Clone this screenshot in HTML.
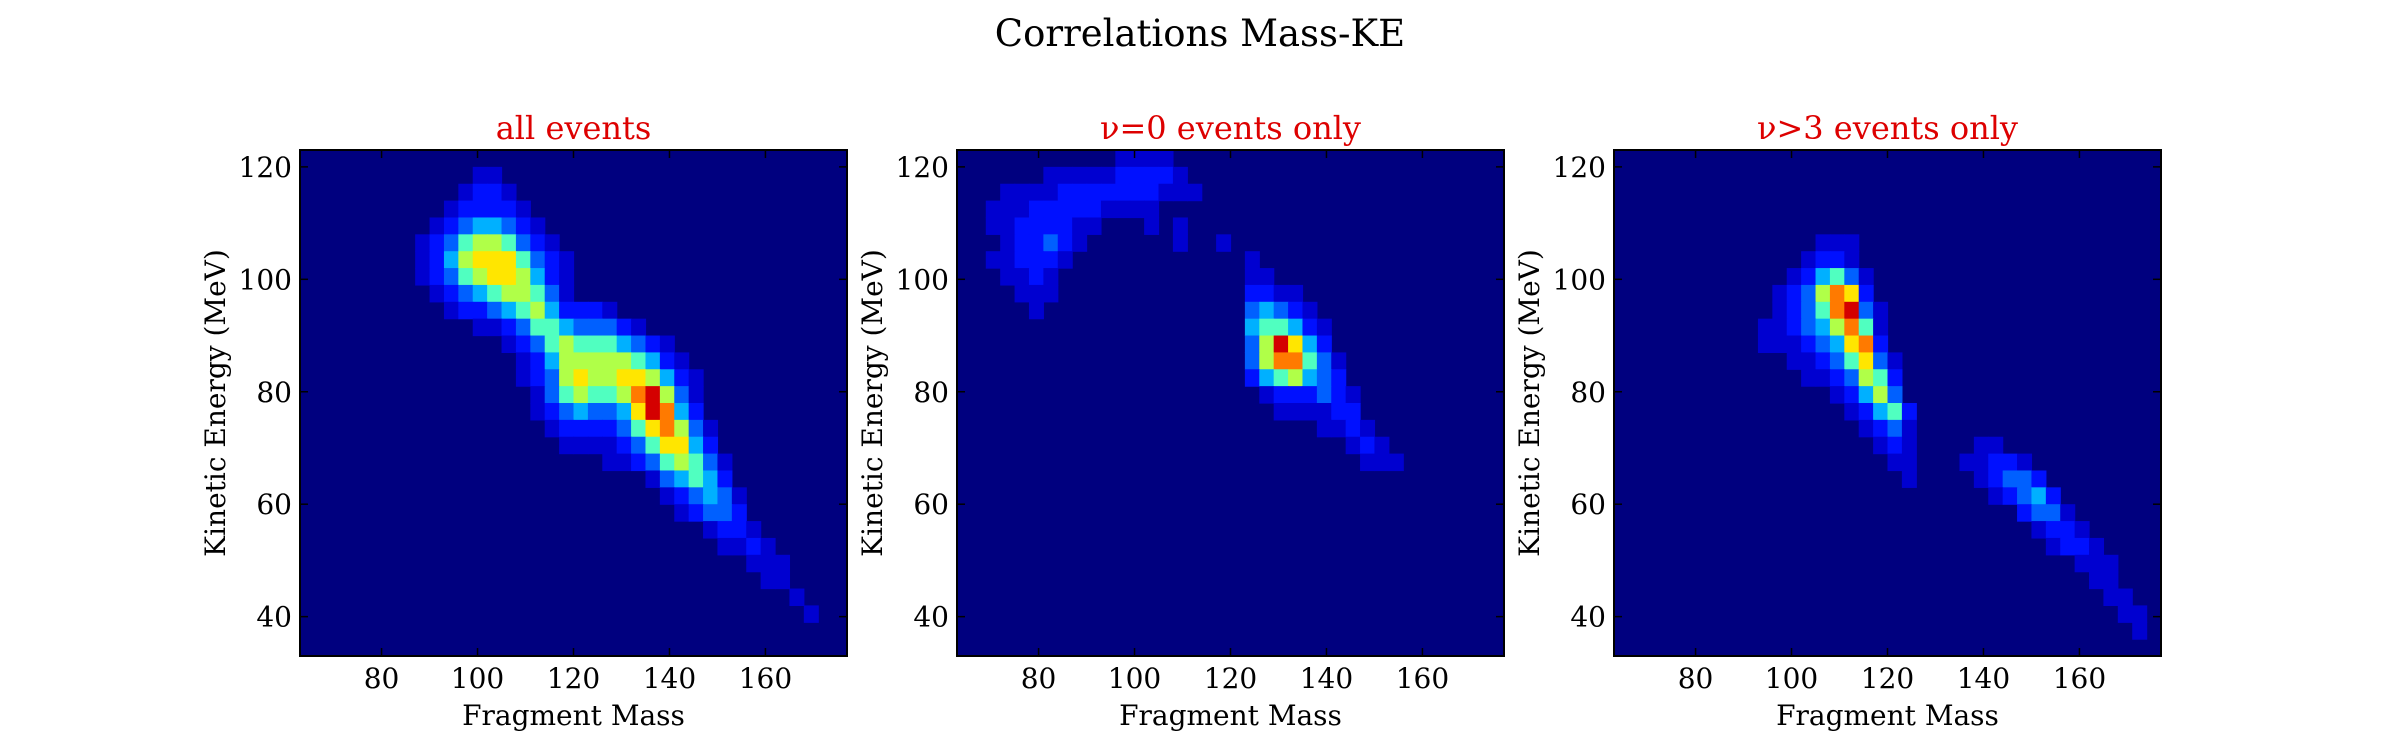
<!DOCTYPE html>
<html><head><meta charset="utf-8">
<style>
html,body{margin:0;padding:0;background:#fff;}
svg{display:block;font-family:"DejaVu Serif","Liberation Serif",serif;}
</style></head>
<body>
<svg id="fig" width="2400" height="750" viewBox="0 0 2400 750" xmlns="http://www.w3.org/2000/svg">
<rect x="0" y="0" width="2400" height="750" fill="#fff"/>
<text x="1200" y="46" text-anchor="middle" font-size="37" fill="#000">Correlations Mass-KE</text>
</svg>
<script>
// axis ranges and bins
const xDomain = [63, 177];
const yDomain = [33, 123];
const binSize = 3;
const xTicks = [80, 100, 120, 140, 160];
const yTicks = [40, 60, 80, 100, 120];
const levelColors = ["#00007f","#0000d0","#0010ff","#0060ff","#00b0ff","#50ffc0","#b0ff48","#ffe600","#ff7a00","#d40000"];
const panelTitles = ["all events", "\u03bd=0 events only", "\u03bd>3 events only"];
// heatmap data: [rowIndexFromTop, startColumn, level string]
const allEventsRuns = [
[1,12,"11"],[2,11,"1221"],[3,10,"122221"],[4,9,"12344321"],[5,8,"1235665321"],
[6,8,"12467775321"],[7,8,"12356776421"],[8,9,"1234566531"],[9,10,"122345642221"],
[10,12,"112355433321"],[11,14,"123565554321"],[12,15,"124666665421"],
[13,15,"1236766776421"],[14,16,"135655689631"],[15,16,"123433479842"],
[16,17,"122223578631"],[17,18,"11112357742"],[18,21,"112356531"],[19,24,"134542"],
[20,25,"123431"],[21,26,"12332"],[22,28,"1221"],[23,29,"1121"],[24,31,"111"],
[25,32,"11"],[26,34,"1"],[27,35,"1"]
];
const nu0Runs = [
[0,11,"1111"],[1,6,"1111122221"],[2,3,"11112222222111"],[3,2,"111222221111"],
[4,2,"11222211"],[4,13,"1"],[4,15,"1"],[5,3,"122321"],[5,15,"1"],[5,18,"1"],
[6,2,"112221"],[6,20,"1"],[7,3,"1121"],[7,20,"11"],[8,4,"111"],[8,20,"2211"],
[9,5,"1"],[9,20,"34321"],[10,20,"455421"],[11,20,"369742"],[12,20,"3688531"],
[13,20,"2456432"],[14,21,"1222321"],[15,22,"111122"],[16,25,"1121"],[17,27,"121"],[18,28,"111"]
];
const nuGt3Runs = [
[5,14,"111"],[6,13,"1221"],[7,12,"124531"],[8,11,"1236872"],[9,11,"12358931"],
[10,10,"112346851"],[11,10,"111234782"],[12,12,"11235731"],[13,13,"1123652"],
[14,15,"12463"],[15,16,"12452"],[16,17,"1231"],[17,18,"121"],[17,25,"11"],
[18,19,"11"],[18,24,"11221"],[19,20,"1"],[19,25,"12332"],[20,26,"12342"],
[21,28,"2331"],[22,29,"1221"],[23,30,"1221"],[24,32,"111"],[25,33,"11"],
[26,34,"11"],[27,35,"11"],[28,36,"1"]
];
const panelData = [allEventsRuns, nu0Runs, nuGt3Runs];
const panelNames = ["all-events", "nu0-events", "nu-gt3-events"];

const NS = "http://www.w3.org/2000/svg";
const svg = document.getElementById("fig");
const panelLefts = [300, 957, 1614];
const pw = 547, plotTop = 150, ph = 506;

function mk(tag, attrs, parent){
  const e = document.createElementNS(NS, tag);
  for (const k in attrs) e.setAttribute(k, attrs[k]);
  parent.appendChild(e);
  return e;
}

panelData.forEach((runs, p) => {
  const left = panelLefts[p];
  const sx = v => left + (v - xDomain[0]) / (xDomain[1] - xDomain[0]) * pw;
  const sy = v => plotTop + (yDomain[1] - v) / (yDomain[1] - yDomain[0]) * ph;
  const g = mk("g", {}, svg);
  
  
  const bg = mk("rect", {x:left, y:plotTop, width:pw, height:ph, fill:levelColors[0]}, g);
  
  
  runs.forEach(r => {
    const row = r[0], start = r[1], s = r[2];
    for (let i = 0; i < s.length; i++) {
      const lv = +s[i];
      if (!lv) continue;
      const m0 = xDomain[0] + (start + i) * binSize;
      const k1 = yDomain[1] - row * binSize;
      const x0 = sx(m0), x1 = sx(m0 + binSize);
      const y0 = sy(k1), y1 = sy(k1 - binSize);
      const c = mk("rect", {x:x0.toFixed(2), y:y0.toFixed(2), width:(x1-x0+0.6).toFixed(2), height:(y1-y0+0.6).toFixed(2), fill:levelColors[lv]}, g);
      
      
    }
  });
  const fr = mk("rect", {x:left, y:plotTop, width:pw, height:ph, fill:"none", stroke:"#000", "stroke-width":2}, g);
  
  
  xTicks.forEach(t => {
    const x = sx(t);
    mk("line", {x1:x, y1:plotTop+ph, x2:x, y2:plotTop+ph-8, stroke:"#000", "stroke-width":1.5}, g);
    mk("line", {x1:x, y1:plotTop, x2:x, y2:plotTop+8, stroke:"#000", "stroke-width":1.5}, g);
    const tl = mk("text", {x:x, y:plotTop+ph+32, "text-anchor":"middle", "font-size":28}, g);
    tl.textContent = t;
    
    
  });
  yTicks.forEach(t => {
    const y = sy(t);
    mk("line", {x1:left, y1:y, x2:left+8, y2:y, stroke:"#000", "stroke-width":1.5}, g);
    mk("line", {x1:left+pw, y1:y, x2:left+pw-8, y2:y, stroke:"#000", "stroke-width":1.5}, g);
    const tl = mk("text", {x:left-8, y:y+10, "text-anchor":"end", "font-size":28}, g);
    tl.textContent = t;
    
    
  });
  const tt = mk("text", {x:left+pw/2, y:139, "text-anchor":"middle", "font-size":32, fill:"#dd0000"}, g);
  tt.textContent = panelTitles[p];
  
  
  const xl = mk("text", {x:left+pw/2, y:725, "text-anchor":"middle", "font-size":28}, g);
  xl.textContent = "Fragment Mass";
  
  
  const yl = mk("text", {x:0, y:0, "text-anchor":"middle", "font-size":28, transform:"translate(" + (left-75) + "," + (plotTop+ph/2) + ") rotate(-90)"}, g);
  yl.textContent = "Kinetic Energy (MeV)";
  
  
});
</script>
</body></html>
